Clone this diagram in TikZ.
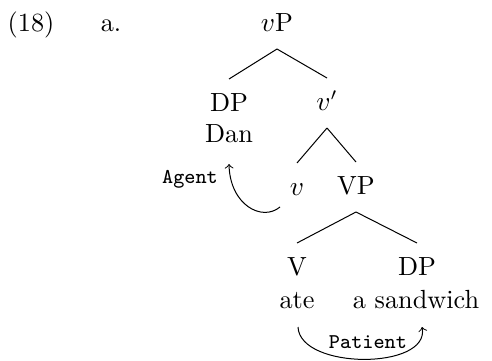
\documentclass[tikz,border=0pt]{standalone}
\begin{document}
\begin{tikzpicture}[x=0.4pt,y=-0.4pt,line width=0.4pt,
  cat/.style={anchor=base,font=\fontsize{10.5}{12}\selectfont,
    text height=7.2pt,text depth=1.6pt,inner sep=5.6pt,outer sep=0pt},
  word/.style={anchor=base,font=\fontsize{10.5}{12}\selectfont,inner sep=0pt},
  role/.style={anchor=base,font=\fontsize{8.4}{10}\selectfont\ttfamily,inner sep=0pt},
  branch/.style={draw},
  theta/.style={draw,->}]
\useasboundingbox (0,0) rectangle (492,360);

% example number and sub-label
\node[word] (ex)  at (31,31)  {(18)};
\node[word] (sub) at (111,31) {a.};

% tree nodes
\node[cat]  (vP)   at (277,31)  {$v$P};
\node[cat]  (DP1)  at (229,111) {DP};
\node[word] (Dan)  at (229,142) {Dan};
\node[cat]  (vbar) at (327,110) {$v'$};
\node[cat]  (v)    at (297,195) {$v$};
\node[cat]  (VP)   at (356,194) {VP};
\node[cat]  (V)    at (297,275) {V};
\node[word] (ate)  at (297,308) {ate};
\node[cat]  (DP2)  at (417,275) {DP};
\node[word] (sand) at (416,308) {a sandwich};

% theta-role labels
\node[role] (agent)   at (190,183) {Agent};
\node[role] (patient) at (368,348) {Patient};

% branches
\draw[branch] (vP.south) -- (DP1.north);
\draw[branch] (vP.south) -- (vbar.north);
\draw[branch] (vbar.south) -- (v.north);
\draw[branch] (vbar.south) -- (VP.north);
\draw[branch] (VP.south) -- (V.north);
\draw[branch] (VP.south) -- (DP2.north);

% role assignment arrows
\draw[theta] ([shift={(-17,12)}]v.base)
  .. controls +(-18,15) and +(1,41) .. ([shift={(0,22)}]Dan.base);
\draw[theta] ([shift={(1,19)}]ate.base)
  .. controls +(2,43) and +(8,43) .. ([shift={(6,19)}]sand.base);
\end{tikzpicture}
\end{document}
